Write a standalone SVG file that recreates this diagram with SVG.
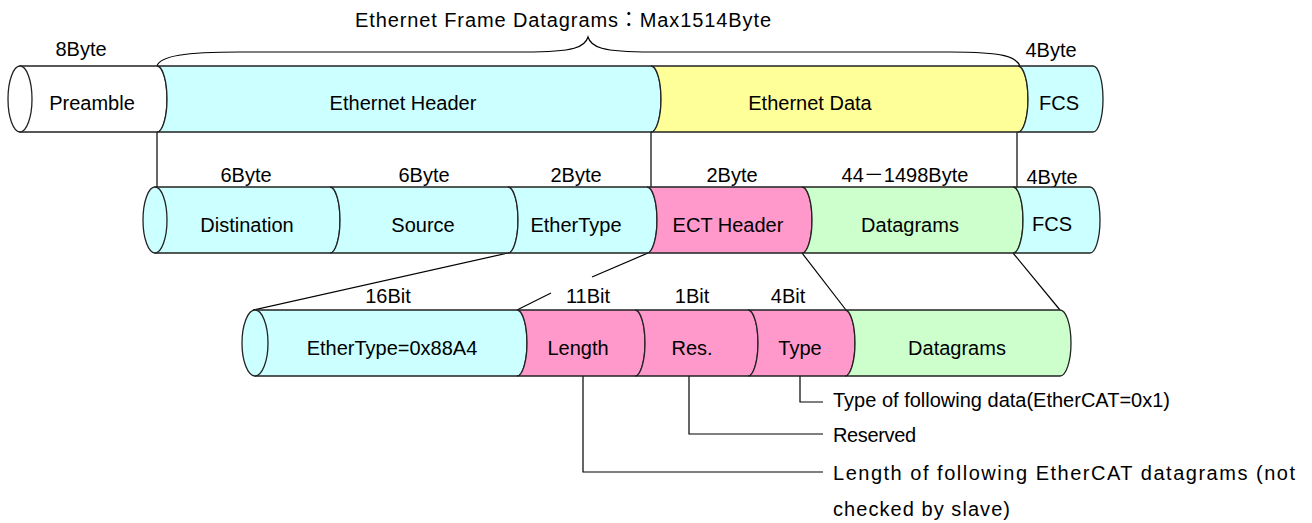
<svg xmlns="http://www.w3.org/2000/svg" width="1312" height="523" viewBox="0 0 1312 523">
<style>
text{font-family:"Liberation Sans","Noto Sans CJK JP",Arial,sans-serif;font-size:20px;fill:#000}
.m{text-anchor:middle}
.seg{stroke:#222;stroke-width:1.3}
.c{fill:#CCFFFF}.y{fill:#FFFF99}.p{fill:#FF99CC}.g{fill:#CCFFCC}.w{fill:#FFFFFF}
.ln{fill:none;stroke:#000;stroke-width:1.2}
</style>
<rect width="1312" height="523" fill="#fff"/>
<g id="connectors">
<path class="ln" d="M157,66 C160,56 185,52 240,52 L525,52 C575,52 585,47 588,37 C591,47 601,52 651,52 L950,52 C1005,52 1016,57 1020,66"/>
<line class="ln" x1="157" y1="132" x2="157" y2="187"/>
<line class="ln" x1="651" y1="132" x2="651" y2="187"/>
<line class="ln" x1="1017" y1="132" x2="1017" y2="187"/>
<line class="ln" x1="508" y1="253" x2="253" y2="310"/>
<line class="ln" x1="648" y1="253" x2="592" y2="277"/>
<line class="ln" x1="551" y1="293" x2="517" y2="310"/>
<line class="ln" x1="802" y1="253" x2="846" y2="310"/>
<line class="ln" x1="1013" y1="253" x2="1060" y2="310"/>
<polyline class="ln" points="800,376 800,402 823,402"/>
<polyline class="ln" points="689,376 689,434 823,434"/>
<polyline class="ln" points="583,376 583,472 823,472"/>
</g>
<text x="355" y="27" textLength="416">Ethernet Frame Datagrams：Max1514Byte</text>
<text class="m" x="81" y="56">8Byte</text>
<text class="m" x="1051" y="57">4Byte</text>
<g id="preamble"><path class="seg w" d="M20,66 L157,66 A10,33 0 0 1 157,132 L20,132 Z"/><ellipse class="seg w" cx="20" cy="99" rx="12" ry="33"/><text class="m" x="92" y="110">Preamble</text></g>
<g id="eth-header"><path class="seg c" d="M157,66 L651,66 A10,33 0 0 1 651,132 L157,132 A10,33 0 0 0 157,66 Z"/><text class="m" x="403" y="110">Ethernet Header</text></g>
<g id="eth-data"><path class="seg y" d="M651,66 L1018,66 A10,33 0 0 1 1018,132 L651,132 A10,33 0 0 0 651,66 Z"/><text class="m" x="810" y="110">Ethernet Data</text></g>
<g id="fcs1"><path class="seg c" d="M1018,66 L1093,66 A10,33 0 0 1 1093,132 L1018,132 A10,33 0 0 0 1018,66 Z"/><text class="m" x="1059" y="110">FCS</text></g>
<text class="m" x="246" y="182">6Byte</text>
<text class="m" x="424" y="182">6Byte</text>
<text class="m" x="576" y="182">2Byte</text>
<text class="m" x="732" y="182">2Byte</text>
<text class="m" x="905" y="182">44－1498Byte</text>
<text class="m" x="1052" y="184">4Byte</text>
<g id="distination"><path class="seg c" d="M155,187 L330,187 A10,33 0 0 1 330,253 L155,253 Z"/><ellipse class="seg c" cx="155" cy="220" rx="12" ry="33"/><text class="m" x="247" y="232">Distination</text></g>
<g id="source"><path class="seg c" d="M330,187 L508,187 A10,33 0 0 1 508,253 L330,253 A10,33 0 0 0 330,187 Z"/><text class="m" x="423" y="232">Source</text></g>
<g id="ethertype"><path class="seg c" d="M508,187 L647,187 A10,33 0 0 1 647,253 L508,253 A10,33 0 0 0 508,187 Z"/><text class="m" x="576" y="232">EtherType</text></g>
<g id="ect-header"><path class="seg p" d="M647,187 L802,187 A10,33 0 0 1 802,253 L647,253 A10,33 0 0 0 647,187 Z"/><text class="m" x="728" y="232">ECT Header</text></g>
<g id="datagrams2"><path class="seg g" d="M802,187 L1013,187 A10,33 0 0 1 1013,253 L802,253 A10,33 0 0 0 802,187 Z"/><text class="m" x="910" y="232">Datagrams</text></g>
<g id="fcs2"><path class="seg c" d="M1013,187 L1090,187 A10,33 0 0 1 1090,253 L1013,253 A10,33 0 0 0 1013,187 Z"/><text class="m" x="1052" y="231">FCS</text></g>
<text class="m" x="388" y="303">16Bit</text>
<text class="m" x="588" y="303">11Bit</text>
<text class="m" x="692" y="303">1Bit</text>
<text class="m" x="788" y="303">4Bit</text>
<g id="ethertype-val"><path class="seg c" d="M255,310 L517,310 A10,33 0 0 1 517,376 L255,376 Z"/><ellipse class="seg c" cx="255" cy="343" rx="13" ry="33"/><text class="m" x="392" y="355">EtherType=0x88A4</text></g>
<g id="length"><path class="seg p" d="M517,310 L635,310 A10,33 0 0 1 635,376 L517,376 A10,33 0 0 0 517,310 Z"/><text class="m" x="578" y="355">Length</text></g>
<g id="res"><path class="seg p" d="M635,310 L748,310 A10,33 0 0 1 748,376 L635,376 A10,33 0 0 0 635,310 Z"/><text class="m" x="692" y="355">Res.</text></g>
<g id="type"><path class="seg p" d="M748,310 L845,310 A10,33 0 0 1 845,376 L748,376 A10,33 0 0 0 748,310 Z"/><text class="m" x="800" y="355">Type</text></g>
<g id="datagrams3"><path class="seg g" d="M845,310 L1060,310 A11,33 0 0 1 1060,376 L845,376 A10,33 0 0 0 845,310 Z"/><text class="m" x="957" y="355">Datagrams</text></g>
<text x="833" y="407" textLength="337">Type of following data(EtherCAT=0x1)</text>
<text x="833" y="442" textLength="83">Reserved</text>
<text x="833" y="480" textLength="462">Length of following EtherCAT datagrams (not</text>
<text x="833" y="516" textLength="177">checked by slave)</text>
</svg>
